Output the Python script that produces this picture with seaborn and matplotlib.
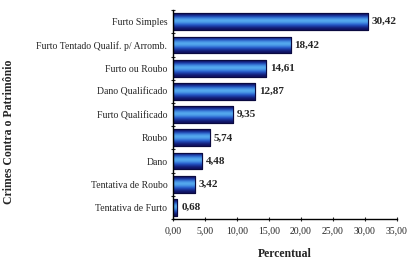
import numpy as np
import pandas as pd
import matplotlib
matplotlib.use("Agg")
import matplotlib.pyplot as plt
import seaborn as sns

# =========================
# DADOS
# =========================
crimes = ["Furto Simples", "Furto Tentado Qualif. p/ Arromb.", "Furto ou Roubo",
          "Dano Qualificado", "Furto Qualificado", "Roubo", "Dano",
          "Tentativa de Roubo", "Tentativa de Furto"]
percentual = [30.42, 18.42, 14.61, 12.87, 9.35, 5.74, 4.48, 3.42, 0.68]
xticks = [0, 5, 10, 15, 20, 25, 30, 35]

df = pd.DataFrame({"Crime": crimes, "Percentual": percentual})

sns.set_style("ticks")
plt.rcParams["font.family"] = ["Liberation Serif", "DejaVu Serif"]

fig = plt.figure(figsize=(4.07, 2.59), dpi=100)
ax = fig.add_axes([0.425, 0.154, 0.55, 0.807])

sns.barplot(data=df, x="Percentual", y="Crime", orient="h", color="#1f4fbf",
            width=0.72, edgecolor="#0a0a40", linewidth=0.8, ax=ax)

# gradiente vertical nas barras
grad = np.array([0.0, 0.4, 0.8, 1.0, 0.85, 0.55, 0.25, 0.0]).reshape(-1, 1)
cmap = matplotlib.colors.LinearSegmentedColormap.from_list(
    "azul", ["#10105e", "#1f4fc8", "#5ab3f2"])
for p in ax.patches:
    x0, y0 = p.get_x(), p.get_y()
    w, h = p.get_width(), p.get_height()
    im = ax.imshow(grad, cmap=cmap, aspect="auto", interpolation="bicubic",
                   extent=(x0, x0 + w, y0 + h, y0), zorder=p.get_zorder() + 0.1)
    im.set_clip_path(p)
    ax.add_patch(plt.Rectangle((x0, y0), w, h, fill=False, edgecolor="#0a0a40",
                               linewidth=0.8, zorder=p.get_zorder() + 0.2))

for i, v in enumerate(percentual):
    ax.text(v + 0.6, i, f"{v:.2f}".replace(".", ","), va="center", ha="left",
            fontsize=8, fontweight="bold")

ax.set_xlim(0, 35)
ax.set_ylim(len(crimes) - 0.5, -0.5)
ax.set_xticks(xticks)
ax.set_xticklabels([f"{t:.2f}".replace(".", ",") for t in xticks], fontsize=7)
ax.tick_params(axis="y", which="major", length=0, labelsize=7, pad=4)
ax.set_yticks(np.arange(-0.5, len(crimes), 1), minor=True)
ax.tick_params(axis="y", which="minor", length=3, direction="inout", width=0.8)
ax.tick_params(axis="x", length=3, direction="inout", width=0.8, pad=4)

ax.set_xlabel("Percentual", fontsize=8.5, fontweight="bold", labelpad=9)
ax.set_ylabel("Crimes Contra o Patrimônio", fontsize=8.5, fontweight="bold")
ax.yaxis.set_label_coords(-0.705, 0.42)

for s in ["top", "right"]:
    ax.spines[s].set_visible(False)
for s in ["left", "bottom"]:
    ax.spines[s].set_color("black")
    ax.spines[s].set_linewidth(1.0)

fig.savefig("out.png", dpi=100)
